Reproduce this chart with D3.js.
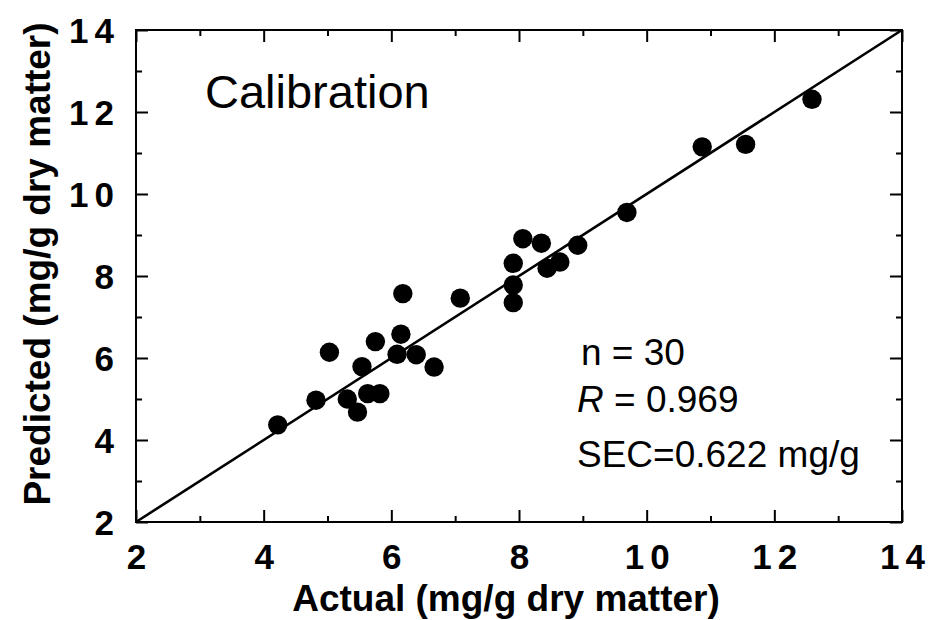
<!DOCTYPE html>
<html>
<head>
<meta charset="utf-8">
<script src="https://cdn.jsdelivr.net/npm/d3@7"></script>
<style>
  html, body { margin: 0; padding: 0; background: #fff; }
  svg { display: block; }
</style>
</head>
<body>
<svg id="chart" width="931" height="620"></svg>
<script>
// Calibration set: actual vs predicted content (mg/g dry matter)
const actual = [4.22, 4.82, 5.03, 5.31, 5.47, 5.54, 5.63, 5.75, 5.82, 6.09, 6.15, 6.18, 6.39, 6.67, 7.08,
                7.91, 7.91, 7.91, 8.06, 8.35, 8.44, 8.64, 8.92, 9.69, 10.87, 11.55, 12.59];
const predicted = [4.37, 4.97, 6.14, 5.00, 4.68, 5.79, 5.13, 6.40, 5.13, 6.09, 6.58, 7.57, 6.08, 5.78, 7.46,
                   8.31, 7.78, 7.35, 8.91, 8.80, 8.19, 8.34, 8.75, 9.55, 11.15, 11.21, 12.31];
const majorTicks = [2, 4, 6, 8, 10, 12, 14];
const minorTicks = [3, 5, 7, 9, 11, 13];
const annotations = ["n = 30", "R = 0.969", "SEC=0.622 mg/g"];

const W = 931, H = 620;
const margin = { top: 30, right: 29, bottom: 98, left: 136 };
const iw = W - margin.left - margin.right;
const ih = H - margin.top - margin.bottom;

const svg = d3.select("#chart");
const g = svg.append("g").attr("transform", `translate(${margin.left},${margin.top})`);

const x = d3.scaleLinear().domain([2, 14]).range([0, iw]);
const y = d3.scaleLinear().domain([2, 14]).range([ih, 0]);

const font = "'Liberation Sans', Arial, Helvetica, sans-serif";

// Inward ticks on all four sides
function ticks(axisGen, scale, vals, size) {
  return axisGen(scale).tickValues(vals).tickSize(size).tickFormat("");
}
const sides = [
  { gen: d3.axisBottom, tr: `translate(0,${ih})`, s: x },
  { gen: d3.axisTop, tr: `translate(0,0)`, s: x },
  { gen: d3.axisLeft, tr: `translate(0,0)`, s: y },
  { gen: d3.axisRight, tr: `translate(${iw},0)`, s: y }
];
sides.forEach(sd => {
  [[majorTicks, 12], [minorTicks, 6]].forEach(([vals, len]) => {
    const a = g.append("g").attr("transform", sd.tr)
      .call(ticks(sd.gen, sd.s, vals, -len));
    a.select(".domain").remove();
    a.selectAll("line").attr("stroke", "#000").attr("stroke-width", 2);
  });
});

// Frame
g.append("rect").attr("x", 0).attr("y", 0).attr("width", iw).attr("height", ih)
  .attr("fill", "none").attr("stroke", "#000").attr("stroke-width", 2);

// Tick labels
const xl = g.append("g").attr("transform", `translate(0,${ih})`)
  .call(d3.axisBottom(x).tickValues(majorTicks).tickSize(0).tickPadding(0).tickFormat(d3.format("d")));
xl.select(".domain").remove();
xl.selectAll("text")
  .attr("y", 47).attr("dy", 0).attr("dx", 3)
  .attr("font-family", font).attr("font-weight", "bold").attr("font-size", 35)
  .attr("letter-spacing", 6).attr("fill", "#000");

const yl = g.append("g")
  .call(d3.axisLeft(y).tickValues(majorTicks).tickSize(0).tickPadding(0).tickFormat(d3.format("d")));
yl.select(".domain").remove();
yl.selectAll("text")
  .attr("x", -16).attr("dy", "0.36em")
  .attr("font-family", font).attr("font-weight", "bold").attr("font-size", 35)
  .attr("letter-spacing", 6).attr("fill", "#000");

// 1:1 line
g.append("line")
  .attr("x1", x(2)).attr("y1", y(2)).attr("x2", x(14)).attr("y2", y(14))
  .attr("stroke", "#000").attr("stroke-width", 2.6);

// Points
const pts = actual.map((a, i) => ({ a, p: predicted[i] }));
g.selectAll("circle.pt").data(pts).join("circle")
  .attr("class", "pt")
  .attr("cx", d => x(d.a)).attr("cy", d => y(d.p)).attr("r", 9.7)
  .attr("fill", "#000");

// Panel label
g.append("text").attr("x", 69).attr("y", 78)
  .attr("font-family", font).attr("font-size", 47).attr("fill", "#000")
  .text("Calibration");

// Statistics
const stat = g.append("g").attr("font-family", font).attr("font-size", 37).attr("fill", "#000");
stat.append("text").attr("x", 445).attr("y", 335).text(annotations[0]);
const rt = stat.append("text").attr("x", 441).attr("y", 382);
rt.append("tspan").attr("font-style", "italic").text(annotations[1].slice(0, 1));
rt.append("tspan").text(annotations[1].slice(1));
stat.append("text").attr("x", 441).attr("y", 437).text(annotations[2]);

// Axis titles
svg.append("text")
  .attr("x", margin.left + iw / 2 - 13).attr("y", 611)
  .attr("text-anchor", "middle")
  .attr("font-family", font).attr("font-weight", "bold").attr("font-size", 37).attr("fill", "#000")
  .text("Actual (mg/g dry matter)");

svg.append("text")
  .attr("transform", `translate(50,${264}) rotate(-90)`)
  .attr("text-anchor", "middle")
  .attr("font-family", font).attr("font-weight", "bold").attr("font-size", 37).attr("fill", "#000")
  .text("Predicted (mg/g dry matter)");
</script>
</body>
</html>
